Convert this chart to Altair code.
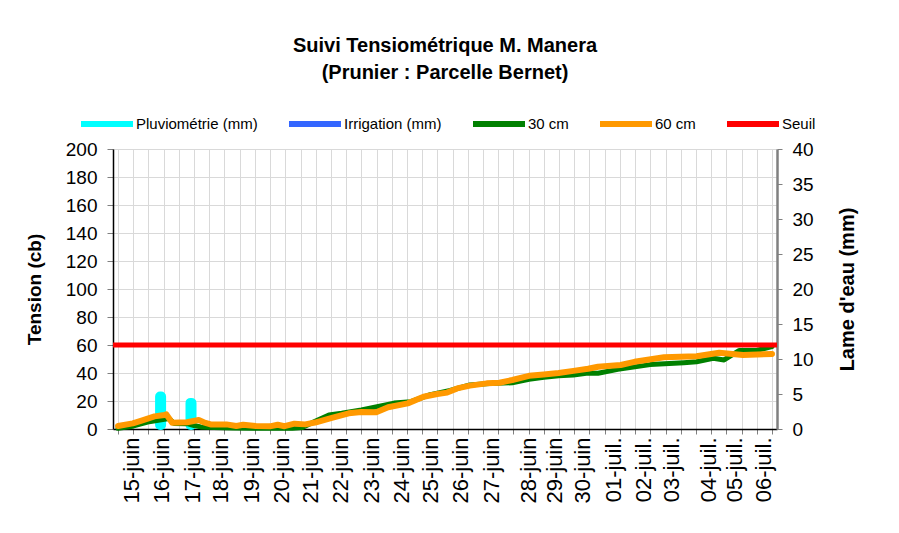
import altair as alt
import pandas as pd

# ---------------- data (x in grid steps; one grid step = half a day) ----------------
label_pos = [0.87, 2.88, 4.89, 6.74, 8.75, 10.75, 12.63, 14.64, 16.65, 18.66, 20.54,
             22.52, 24.53, 26.96, 28.71, 30.54, 32.55, 34.56, 36.4, 38.83, 40.54, 42.42]
label_txt = ["15-juin", "16-juin", "17-juin", "18-juin", "19-juin", "20-juin", "21-juin",
             "22-juin", "23-juin", "24-juin", "25-juin", "26-juin", "27-juin", "28-juin",
             "29-juin", "30-juin", "01-juil.", "02-juil.", "03-juil.", "04-juil.",
             "05-juil.", "06-juil."]
grid_pos = list(range(44))

pluie_pos = [2.8, 4.8]
pluie_mm = [5.2, 4.3]

t30_pos = [0, 0.97, 1.94, 3.05, 3.37, 3.69, 4.54, 5.0, 5.44, 6.29, 7.58, 8.88, 10.17,
           11.47, 12.12, 12.96, 13.87, 14.71, 16.0, 18.15, 19.25, 20.54, 21.84, 23.14,
           24.43, 25.92, 27.02, 28.0, 28.97, 29.94, 30.91, 31.56, 32.86, 34.99, 37.2,
           38.04, 39.14, 39.85, 40.83, 41.93, 43]
t30_val = [0.5, 2, 5, 7, 7.5, 4, 3.8, 2.5, 1.5, 1, 0.8, 0.5, 0.8, 0.5, 1, 5.5, 10, 11.2,
           13.6, 18.5, 19.5, 24.5, 27.5, 31.5, 32.5, 33, 35.5, 37, 38, 38.5, 40, 39.8,
           42.6, 46, 47.4, 48, 50.5, 49.3, 56, 56, 58.8]

t60_pos = [0, 0.97, 1.55, 2.4, 3.05, 3.17, 3.56, 4.54, 5.31, 5.64, 6.09, 7.13, 7.78, 8.23,
           9.07, 9.98, 10.5, 10.95, 11.6, 12.31, 12.96, 14.06, 15.17, 16.0, 16.98, 17.76,
           19.05, 20.09, 20.99, 21.64, 22.3, 23.14, 24.24, 25.08, 25.92, 27.02, 27.99,
           28.97, 29.94, 30.91, 31.56, 33.05, 33.96, 35.9, 38.04, 39.53, 41.09, 43]
t60_val = [2.1, 4, 6, 9, 10, 10.5, 4.5, 4.8, 6.4, 4.8, 3.3, 3.3, 2.1, 3, 2.1, 1.9, 3, 2,
           3.8, 3.3, 4.6, 8, 11.2, 12.2, 12, 15.5, 18.3, 23, 25, 26, 29, 31, 32.6, 33, 35,
           38, 39, 40, 41.5, 43, 44.5, 45.7, 48, 51.2, 52, 54.5, 52.8, 53.6]

seuil_val = [60]

series_domain = ["Pluviométrie (mm)", "Irrigation (mm)", "30 cm", "60 cm", "Seuil"]
series_colors = ["#00FFFF", "#3366FF", "#008000", "#FF9900", "#FF0000"]

# ---------------- tables ----------------
pluie_df = pd.DataFrame({"pos": pluie_pos, "mm": pluie_mm, "serie": series_domain[0]})
t30_df = pd.DataFrame({"pos": t30_pos, "cb": t30_val, "serie": "30 cm"})
t60_df = pd.DataFrame({"pos": t60_pos, "cb": t60_val, "serie": "60 cm"})
seuil_df = pd.DataFrame({"cb": seuil_val, "serie": "Seuil"})

FONT = "Liberation Sans"
x_scale = alt.Scale(domain=[0, 43], nice=False, zero=False)
y_left = alt.Scale(domain=[0, 200], nice=False)
y_right = alt.Scale(domain=[0, 40], nice=False)

label_expr = "[" + ",".join("'%s'" % t for t in label_txt) + "][indexof([" + \
    ",".join(str(p) for p in label_pos) + "], datum.value)]"

color = alt.Color(
    "serie:N",
    scale=alt.Scale(domain=series_domain, range=series_colors),
    legend=alt.Legend(
        title=None, orient="none", legendX=-32, legendY=-51, direction="horizontal",
        columns=5, columnPadding=31, labelFontSize=15, labelFont=FONT, labelOffset=3,
        symbolSize=2704, symbolType="M-1,-0.12H1V0.12H-1Z", symbolStrokeWidth=0,
    ),
)

bars = alt.Chart(pluie_df).mark_bar(width=9, cornerRadius=4, orient="vertical",
                                    stroke="#00FFFF", strokeWidth=2).encode(
    x=alt.X("pos:Q", scale=x_scale,
            axis=alt.Axis(values=grid_pos, orient="bottom", labels=False, title=None,
                          grid=True, gridColor="#D9D9D9", gridWidth=1,
                          ticks=True, tickColor="#808080", tickSize=5, tickWidth=1,
                          domain=True, domainColor="#000000", domainWidth=1.5)),
    y=alt.Y("mm:Q", scale=y_right,
            axis=alt.Axis(orient="right", values=[0, 5, 10, 15, 20, 25, 30, 35, 40],
                          title="Lame d'eau (mm)", titleFontSize=20, titleFont=FONT,
                          titleFontWeight="bold", titleAngle=270, titlePadding=44,
                          labelFontSize=19, labelFont=FONT, labelColor="#000000",
                          labelPadding=10, grid=False, ticks=True, tickSize=5,
                          tickColor="#808080", domainColor="#808080", domainWidth=2.5)),
    color=color,
)

line30 = alt.Chart(t30_df).mark_line(strokeWidth=5, strokeJoin="round", strokeCap="round").encode(
    x=alt.X("pos:Q", scale=x_scale,
            axis=alt.Axis(values=label_pos, labelExpr=label_expr, orient="bottom",
                          title=None, ticks=False, grid=False, domain=False,
                          labelAngle=270, labelAlign="right", labelBaseline="middle",
                          labelFontSize=22, labelFont=FONT, labelColor="#000000",
                          labelPadding=8, labelOverlap=False, labelFlush=False)),
    y=alt.Y("cb:Q", scale=y_left,
            axis=alt.Axis(orient="left", values=list(range(0, 201, 20)),
                          title="Tension (cb)", titleFontSize=19, titleFont=FONT,
                          titleFontWeight="bold", titlePadding=21,
                          labelFontSize=19, labelFont=FONT, labelColor="#000000",
                          labelPadding=10, grid=True, gridColor="#D9D9D9",
                          ticks=True, tickSize=6, tickColor="#808080",
                          domainColor="#000000", domainWidth=1.5)),
    color=color,
)

line60 = alt.Chart(t60_df).mark_line(strokeWidth=6, strokeJoin="round", strokeCap="round").encode(
    x=alt.X("pos:Q", scale=x_scale, axis=None),
    y=alt.Y("cb:Q", scale=y_left, axis=None),
    color=color,
)

seuil = alt.Chart(seuil_df).mark_rule(strokeWidth=5).encode(
    y=alt.Y("cb:Q", scale=y_left, axis=None),
    color=color,
)

chart = alt.layer(bars, line30, line60, seuil).resolve_scale(y="independent").resolve_axis(
    x="independent"
).properties(
    width=664, height=280,
    title=alt.TitleParams(["Suivi Tensiométrique M. Manera", "(Prunier : Parcelle Bernet)"],
                          fontSize=20, font=FONT, fontWeight="bold", anchor="middle",
                          frame="group", offset=15, lineHeight=27, color="#000000"),
    autosize=alt.AutoSizeParams(type="none"),
    padding={"left": 105, "top": 141, "right": 114, "bottom": 96},
).configure(font=FONT).configure_view(stroke=None)

chart.save("out.html", embed_options={"renderer": "svg", "actions": False})
